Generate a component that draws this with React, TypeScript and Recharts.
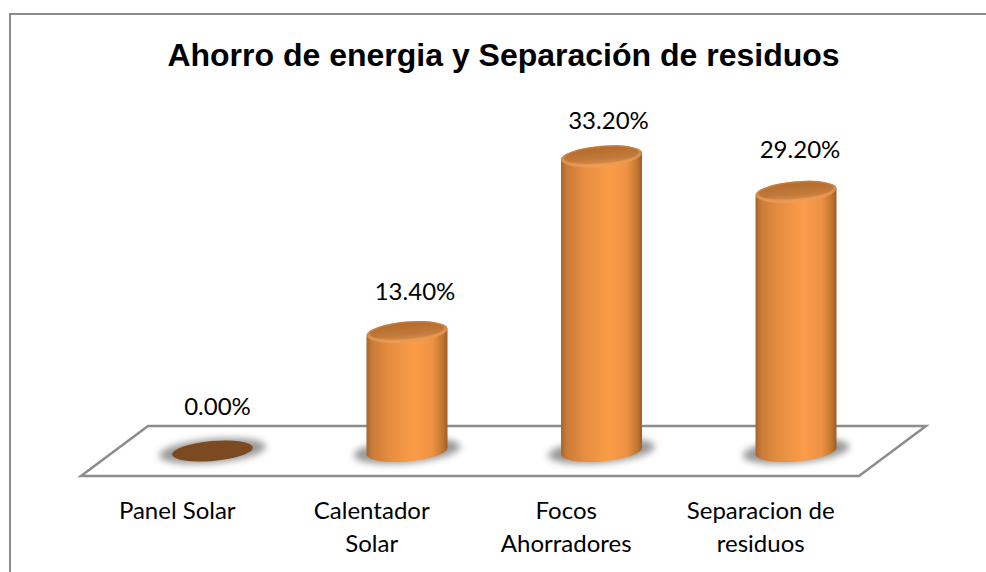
import React from "react";
import { BarChart, Bar, XAxis, YAxis, LabelList, usePlotArea } from "recharts";

const categories = ["Panel Solar", "Calentador Solar", "Focos Ahorradores", "Separacion de residuos"];
const tickLines = [["Panel Solar"], ["Calentador", "Solar"], ["Focos", "Ahorradores"], ["Separacion de", "residuos"]];
const values = [0, 13.4, 33.2, 29.2];
const title = "Ahorro de energia y Separación de residuos";
const data = categories.map((name, i) => ({ name, value: values[i] }));

const labelNudge = [[5, -44], [8, -40], [7, -36], [4, -42]];

const DEPTH_X = 34;
const DEPTH_Y = 25;
const RY = 10.5;
const TILT = -5;
const TEXT_FONT = "Lato, 'Open Sans', sans-serif";

function Floor() {
  const p = usePlotArea();
  if (!p) return null;
  const base = p.y + p.height;
  const left = p.x;
  const right = p.x + p.width;
  const dx = 67;
  const dy = 50;
  return (
    <g>
      <defs>
        <linearGradient id="cyl" x1="0" y1="0" x2="1" y2="0">
          <stop offset="0" stopColor="#a8642b" />
          <stop offset="0.07" stopColor="#c97c38" />
          <stop offset="0.28" stopColor="#e68d40" />
          <stop offset="0.6" stopColor="#fb9c49" />
          <stop offset="0.82" stopColor="#ed9143" />
          <stop offset="0.94" stopColor="#c0762f" />
          <stop offset="1" stopColor="#9c5d28" />
        </linearGradient>
        <linearGradient id="cap" x1="0" y1="0" x2="0" y2="1">
          <stop offset="0" stopColor="#b36c2f" />
          <stop offset="0.7" stopColor="#c27a39" />
          <stop offset="1" stopColor="#d58845" />
        </linearGradient>
        <linearGradient id="rim" x1="0" y1="0" x2="0" y2="1">
          <stop offset="0" stopColor="#c07a3c" />
          <stop offset="1" stopColor="#ee9f58" />
        </linearGradient>
        <filter id="blur" x="-30%" y="-60%" width="160%" height="220%">
          <feGaussianBlur stdDeviation="3.5" />
        </filter>
      </defs>
      <polygon
        points={`${left},${base} ${right},${base} ${right + dx},${base - dy} ${left + dx},${base - dy}`}
        fill="#ffffff"
        stroke="#8c8c8c"
        strokeWidth={2.5}
        strokeLinejoin="miter"
      />
    </g>
  );
}

function Cylinder(props: any) {
  const { x, y, width, height } = props;
  const cx = x + width / 2 + DEPTH_X;
  const rx = width / 2;
  const top = y - DEPTH_Y;
  const base = y + height - DEPTH_Y;
  const d = rx * Math.sin((-TILT * Math.PI) / 180);
  const flat = height < 1;
  return (
    <g>
      <ellipse
        cx={cx}
        cy={base}
        rx={rx + 13}
        ry={RY + 1.5}
        fill="#858585"
        opacity={0.85}
        filter="url(#blur)"
        transform={`rotate(${TILT} ${cx} ${base})`}
      />
      {flat ? (
        <ellipse cx={cx} cy={base} rx={rx} ry={RY - 0.5} fill="#7c4a20" transform={`rotate(${TILT} ${cx} ${base})`} />
      ) : (
        <>
          <path
            d={`M${cx - rx},${top + d} L${cx - rx},${base + d} A${rx} ${RY} ${TILT} 0 0 ${cx + rx},${base - d} L${cx + rx},${top - d} A${rx} ${RY} ${TILT} 0 0 ${cx - rx},${top + d} Z`}
            fill="url(#cyl)"
          />
          <ellipse cx={cx} cy={top} rx={rx} ry={RY} fill="url(#rim)" transform={`rotate(${TILT} ${cx} ${top})`} />
          <ellipse cx={cx} cy={top - 1} rx={rx - 3} ry={RY - 2.5} fill="url(#cap)" transform={`rotate(${TILT} ${cx} ${top - 1})`} />
        </>
      )}
    </g>
  );
}

function ValueLabel(props: any) {
  const { x, y, width, value, index } = props;
  const nudge = labelNudge[index] || [0, 0];
  return (
    <text
      x={x + width / 2 + DEPTH_X + nudge[0]}
      y={y - DEPTH_Y + nudge[1]}
      dy="0.34em"
      textAnchor="middle"
      fontFamily={TEXT_FONT}
      fontSize={24}
      fill="#000"
    >
      {`${Number(value).toFixed(2)}%`}
    </text>
  );
}

function CategoryTick(props: any) {
  const { x, y, index } = props;
  const lines = tickLines[index] || [];
  return (
    <text x={x} y={y} textAnchor="middle" fontFamily={TEXT_FONT} fontSize={24} fill="#000">
      {lines.map((l, i) => (
        <tspan key={l} x={x - 1} y={y + 35 + i * 33}>
          {l}
        </tspan>
      ))}
    </text>
  );
}

export default function App() {
  return (
    <div style={{ position: "absolute", left: 0, top: 0, width: 986, height: 572, background: "#fff", overflow: "hidden" }}>
      <div style={{ position: "absolute", left: 9, top: 13, width: 977, height: 2, background: "#8c8c8c" }} />
      <div style={{ position: "absolute", left: 9, top: 13, width: 2, height: 559, background: "#8c8c8c" }} />
      <div
        style={{
          position: "absolute",
          left: 0,
          width: 1007,
          top: 35,
          textAlign: "center",
          fontFamily: "'Liberation Sans', Arial, sans-serif",
          fontWeight: 700,
          fontSize: 32,
          lineHeight: "40px",
          color: "#000",
        }}
      >
        {title}
      </div>
      <div style={{ position: "absolute", left: 0, top: 0 }}>
        <BarChart width={986} height={572} data={data} margin={{ top: 121, right: 127, bottom: 0, left: 81 }}>
          <Floor />
          <XAxis dataKey="name" axisLine={false} tickLine={false} height={96} interval={0} tick={<CategoryTick />} />
          <YAxis hide domain={[0, 40]} />
          <Bar dataKey="value" barSize={81} shape={<Cylinder />} isAnimationActive={false}>
            <LabelList dataKey="value" content={<ValueLabel />} />
          </Bar>
        </BarChart>
      </div>
    </div>
  );
}
